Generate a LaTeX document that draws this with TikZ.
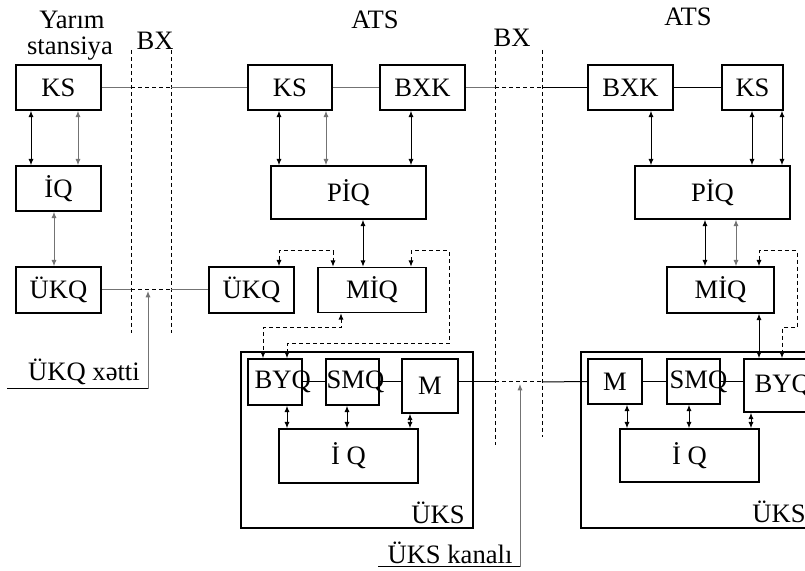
\documentclass[tikz,border=0pt]{standalone}
\usepackage{fontspec}
\setmainfont{Liberation Serif}
\usetikzlibrary{arrows.meta}

\begin{document}
\begin{tikzpicture}[x=0.5pt, y=-0.5pt,
    font=\fontsize{13.3}{16}\selectfont,
    >={Latex[length=3.2pt,width=2.6pt]},
    blok/.style={draw, line width=0.8pt, inner sep=0pt},
    ox/.style={<->, line width=0.5pt},
    xett/.style={line width=0.5pt},
    boz/.style={black!55},
    qirig/.style={dash pattern=on 2pt off 1.5pt, line width=0.5pt}]
  \clip (0,0) rectangle (805,571);

  % basliqlar
  \node (yarim) at (72,20) {Yarım};
  \node (stans) at (70,49) {stansiya};
  \node (ats1) at (375,20) {ATS};
  \node (ats2) at (688,17) {ATS};
  \node (bx1) at (155,41) {BX};
  \node (bx2) at (512,38) {BX};

  % BX xetleri
  \coordinate (bx1t) at (131,50);  \coordinate (bx1b) at (131,333);
  \coordinate (bx2t) at (171,50);  \coordinate (bx2b) at (171,333);
  \coordinate (bx3t) at (495,50);  \coordinate (bx3b) at (495,445);
  \coordinate (bx4t) at (542,50);  \coordinate (bx4b) at (542,437);
  \draw[qirig] (bx1t) -- (bx1b);
  \draw[qirig] (bx2t) -- (bx2b);
  \draw[qirig] (bx3t) -- (bx3b);
  \draw[qirig] (bx4t) -- (bx4b);

  % yarim stansiya
  \node[blok, minimum width=42.5pt, minimum height=22.5pt] (ksL) at (58.5,87.5) {KS};
  \node[blok, minimum width=42.5pt, minimum height=22.5pt] (iqL) at (58.5,188.5) {İQ};
  \node[blok, minimum width=42.5pt, minimum height=23pt] (ukqL) at (58.5,290) {ÜKQ};

  % ATS (orta)
  \node[blok, minimum width=42pt, minimum height=22.5pt] (ksC) at (290,87.5) {KS};
  \node[blok, minimum width=42.5pt, minimum height=22.5pt] (bxkC) at (422.5,87.5) {BXK};
  \node[blok, minimum width=77.5pt, minimum height=26.5pt] (piqC) at (348.5,192.5) {PİQ};
  \node[blok, minimum width=42.5pt, minimum height=23pt] (ukqC) at (251.5,290) {ÜKQ};
  \node[blok, minimum width=54pt, minimum height=22.5pt] (miqC) at (372,290) {MİQ};
  \node[blok, minimum width=116pt, minimum height=88pt] (uksC) at (357,440) {};
  \node[blok, minimum width=27pt, minimum height=23pt] (byqC) at (275,382) {};
  \node[anchor=west, inner sep=0pt] (byqCt) at ([xshift=3.5pt]byqC.west) {BYQ};
  \node[blok, minimum width=26.5pt, minimum height=23pt] (smqC) at (352.5,382) {};
  \node[anchor=west, inner sep=0pt] (smqCt) at ([xshift=0.5pt]smqC.west) {SMQ};
  \node[blok, minimum width=28pt, minimum height=27pt] (mC) at (430,386) {M};
  \node[blok, minimum width=69.5pt, minimum height=27pt] (iqC) at (348.5,456) {İ Q};
  \node (uksCt) at (438,513) {ÜKS};

  % ATS (sag)
  \node[blok, minimum width=42.5pt, minimum height=22.5pt] (bxkR) at (630.5,87.5) {BXK};
  \node[blok, minimum width=30.5pt, minimum height=22.5pt] (ksR) at (752.5,87.5) {KS};
  \node[blok, minimum width=77.5pt, minimum height=26.5pt] (piqR) at (712.5,192.5) {PİQ};
  \node[blok, minimum width=53.5pt, minimum height=23pt] (miqR) at (720.5,290) {MİQ};
  \node[blok, minimum width=126pt, minimum height=88pt] (uksR) at (707,440) {};
  \node[blok, minimum width=27pt, minimum height=22.5pt] (mR) at (615,381.5) {M};
  \node[blok, minimum width=26.5pt, minimum height=22.5pt] (smqR) at (693.5,381.5) {};
  \node[anchor=west, inner sep=0pt] (smqRt) at ([xshift=1.5pt]smqR.west) {SMQ};
  \node[blok, minimum width=34pt, minimum height=26.5pt] (byqR) at (778,385.5) {};
  \node[anchor=west, inner sep=0pt] (byqRt) at ([xshift=5.5pt]byqR.west) {BYQ};
  \node[blok, minimum width=69.5pt, minimum height=26.5pt] (iqR) at (689.5,455.5) {İ Q};
  \node (uksRt) at (779,512) {ÜKS};

  % yuxari xett
  \draw[xett,boz] (ksL.east) -- (ksL.east -| bx1t);
  \draw[qirig] (ksL.east -| bx1t) -- (ksL.east -| bx2t);
  \draw[xett,boz] (ksL.east -| bx2t) -- (ksC.west);
  \draw[xett,boz] (ksC.east) -- (bxkC.west);
  \draw[xett,boz] (bxkC.east) -- (bxkC.east -| bx3t);
  \draw[qirig] (bxkC.east -| bx3t) -- (bxkC.east -| bx4t);
  \draw[xett] (bxkC.east -| bx4t) -- (bxkR.west);
  \draw[xett] (bxkR.east) -- (ksR.west);

  % UKQ xetti
  \draw[xett,boz] (ukqL.east) -- (ukqL.east -| bx1t);
  \draw[qirig] (ukqL.east -| bx1t) -- (ukqL.east -| bx2t);
  \draw[xett,boz] (ukqL.east -| bx2t) -- (ukqC.west);
  \node (xetti) at (84,372) {ÜKQ xətti};
  \coordinate (xq) at (7,389);
  \coordinate (ukqx) at (148,291);
  \draw[xett] (xq) -- (xq -| ukqx);
  \draw[xett,boz,->] (xq -| ukqx) -- (ukqx);

  % UKS kanali
  \draw[xett] (byqC.east) -- (smqC.west);
  \draw[xett] (smqC.east) -- (smqC.east -| mC.west);
  \draw[xett] (mC.east |- smqC.east) -- (smqC.east -| bx3t);
  \draw[qirig] (smqC.east -| bx3t) -- (smqC.east -| bx4t);
  \draw[xett] (smqC.east -| bx4t) -- (mR.west);
  \draw[xett] (mR.east) -- (smqR.west);
  \draw[xett] (smqR.east) -- (smqR.east -| byqR.west);
  \node (kanal) at (450,553) {ÜKS kanalı};
  \coordinate (xk) at (378,567);
  \coordinate (kanx) at (520,384);
  \draw[xett] (xk) -- (xk -| kanx);
  \draw[xett,boz,->] (xk -| kanx) -- (kanx);

  % ikiterefli oxlar
  \draw[ox] (31,0 |- ksL.south) -- (31,0 |- iqL.north);
  \draw[ox,boz] (78,0 |- ksL.south) -- (78,0 |- iqL.north);
  \draw[ox,boz] (54,0 |- iqL.south) -- (54,0 |- ukqL.north);
  \draw[ox] (279,0 |- ksC.south) -- (279,0 |- piqC.north);
  \draw[ox,boz] (326,0 |- ksC.south) -- (326,0 |- piqC.north);
  \draw[ox] (411,0 |- bxkC.south) -- (411,0 |- piqC.north);
  \draw[ox] (363,0 |- piqC.south) -- (363,0 |- miqC.north);
  \draw[ox] (287,0 |- byqC.south) -- (287,0 |- iqC.north);
  \draw[ox] (347,0 |- smqC.south) -- (347,0 |- iqC.north);
  \draw[ox] (410,0 |- mC.south) -- (410,0 |- iqC.north);
  \draw[ox] (651,0 |- bxkR.south) -- (651,0 |- piqR.north);
  \draw[ox] (752,0 |- ksR.south) -- (752,0 |- piqR.north);
  \draw[ox] (782,0 |- ksR.south) -- (782,0 |- piqR.north);
  \draw[ox] (705,0 |- piqR.south) -- (705,0 |- miqR.north);
  \draw[ox,boz] (736,0 |- piqR.south) -- (736,0 |- miqR.north);
  \draw[ox] (759,0 |- miqR.south) -- (759,0 |- byqR.north);
  \draw[ox] (627,0 |- mR.south) -- (627,0 |- iqR.north);
  \draw[ox] (689,0 |- smqR.south) -- (689,0 |- iqR.north);
  \draw[ox] (751,0 |- byqR.south) -- (751,0 |- iqR.north);

  % qirig oxlar
  \draw[qirig,<->] (279,0 |- ukqC.north) -- (279,251) -- (333,251) -- (333,0 |- miqC.north);
  \draw[qirig,<->] (411,0 |- miqC.north) -- (411,251) -- (449,251) -- (449,344) -- (287,344) -- (287,0 |- byqC.north);
  \draw[qirig,<->] (341,0 |- miqC.south) -- (341,328) -- (263,328) -- (263,0 |- byqC.north);
  \draw[qirig,<->] (759,0 |- miqR.north) -- (759,251) -- (797,251) -- (797,328) -- (782,328) -- (782,0 |- byqR.north);
\end{tikzpicture}
\end{document}
